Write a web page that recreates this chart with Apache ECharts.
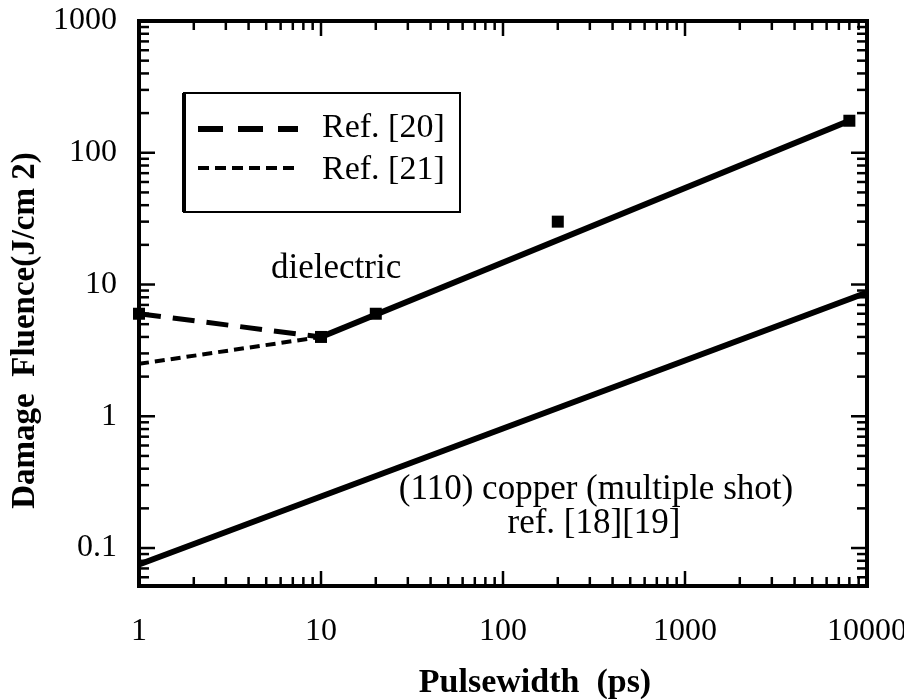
<!DOCTYPE html>
<html>
<head>
<meta charset="utf-8">
<script src="https://cdn.jsdelivr.net/npm/echarts@6/dist/echarts.min.js"></script>
<style>html,body{margin:0;padding:0;background:#fff}#c{width:904px;height:699px}</style>
</head>
<body>
<div id="c"></div>
<script>
// ---- data ----
const ref20X = [1, 10];
const ref20Y = [6, 4];
const ref21X = [1, 10];
const ref21Y = [2.5, 4];
const dielectricX = [10, 8000];
const dielectricY = [4, 175];
const copperX = [1, 10000];
const copperY = [0.075, 8.7];
const squareX = [1, 10, 20, 200, 8000];
const squareY = [6, 4, 6, 30, 175];
const xTickLabels = ['1', '10', '100', '1000', '10000'];
const yTickLabels = ['0.1', '1', '10', '100', '1000'];
const legendNames = ['Ref. [20]', 'Ref. [21]'];
const notes = ['dielectric', '(110) copper (multiple shot)', 'ref. [18][19]'];

const X_MIN = 1, X_MAX = 10000, Y_MIN = 0.0515, Y_MAX = 1000;
const FONT = '"Liberation Serif", "Times New Roman", serif';

const pairs = (xs, ys) => xs.map((x, i) => [x, ys[i]]);

// minor/major tick positions for the framed log axes
const xTicks = [];
for (let e = 0; e < 4; e++) for (let m = 1; m <= 9; m++) xTicks.push([m * Math.pow(10, e), m === 1]);
xTicks.push([10000, true]);
const yTicks = [];
for (let e = -2; e < 3; e++) for (let m = 1; m <= 9; m++) {
  const v = m * Math.pow(10, e);
  if (v >= Y_MIN && v <= Y_MAX) yTicks.push([v, m === 1]);
}
yTicks.push([1000, true]);

function isPow10(v) { const l = Math.log10(v); return Math.abs(l - Math.round(l)) < 1e-6; }
function fmt(labels, v) {
  if (!isPow10(v)) return '';
  const s = String(Math.pow(10, Math.round(Math.log10(v))));
  return labels.indexOf(s) >= 0 ? s : '';
}

const chart = echarts.init(document.getElementById('c'), null, { renderer: 'canvas' });

const option = {
  backgroundColor: '#fff',
  animation: false,
  grid: { left: 139, right: 37, top: 21, bottom: 113, containLabel: false, outerBoundsMode: 'none', show: true, borderColor: '#000', borderWidth: 4, backgroundColor: 'transparent' },
  xAxis: {
    type: 'log', logBase: 10, min: X_MIN, max: X_MAX,
    axisLine: { show: false }, axisTick: { show: false }, splitLine: { show: false },
    axisLabel: { color: '#000', fontFamily: FONT, fontSize: 32, margin: 30, formatter: v => fmt(xTickLabels, v), showMinLabel: true, showMaxLabel: true },
    name: 'Pulsewidth  (ps)', nameLocation: 'middle', nameGap: 80,
    nameTextStyle: { color: '#000', fontFamily: FONT, fontWeight: 'bold', fontSize: 34, padding: [0, 0, 0, 64] }
  },
  yAxis: {
    type: 'log', logBase: 10, min: Y_MIN, max: Y_MAX,
    axisLine: { show: false }, axisTick: { show: false }, splitLine: { show: false },
    axisLabel: { color: '#000', fontFamily: FONT, fontSize: 32, margin: 22, formatter: v => fmt(yTickLabels, v) },
    name: 'Damage  Fluence(J/cm 2)', nameLocation: 'middle', nameGap: 93, nameRotate: 90,
    nameTextStyle: { color: '#000', fontFamily: FONT, fontWeight: 'bold', fontSize: 33, padding: [0, 54, 0, 0] }
  },
  series: [
    {
      name: 'xticks', type: 'custom', silent: true, z: 5, clip: false,
      data: xTicks.map(t => [t[0], 1, t[1] ? 1 : 0]),
      renderItem: function (params, api) {
        const cs = params.coordSys;
        const px = api.coord([api.value(0), 1])[0];
        const len = api.value(2) ? 15 : 9;
        const st = { stroke: '#000', lineWidth: 2.5 };
        return { type: 'group', children: [
          { type: 'line', shape: { x1: px, y1: cs.y + cs.height, x2: px, y2: cs.y + cs.height - len }, style: st },
          { type: 'line', shape: { x1: px, y1: cs.y, x2: px, y2: cs.y + len }, style: st }
        ] };
      }
    },
    {
      name: 'yticks', type: 'custom', silent: true, z: 5, clip: false,
      data: yTicks.map(t => [1, t[0], t[1] ? 1 : 0]),
      renderItem: function (params, api) {
        const cs = params.coordSys;
        const py = api.coord([1, api.value(1)])[1];
        const len = api.value(2) ? 16 : 10;
        const st = { stroke: '#000', lineWidth: 2.5 };
        return { type: 'group', children: [
          { type: 'line', shape: { x1: cs.x, y1: py, x2: cs.x + len, y2: py }, style: st },
          { type: 'line', shape: { x1: cs.x + cs.width, y1: py, x2: cs.x + cs.width - len, y2: py }, style: st }
        ] };
      }
    },
    {
      name: legendNames[0], type: 'line', data: pairs(ref20X, ref20Y), symbol: 'none',
      lineStyle: { color: '#000', width: 5, type: [22, 12] }, z: 3
    },
    {
      name: legendNames[1], type: 'line', data: pairs(ref21X, ref21Y), symbol: 'none',
      lineStyle: { color: '#000', width: 4, type: [10, 6] }, z: 3
    },
    {
      name: 'dielectric', type: 'line', data: pairs(dielectricX, dielectricY), symbol: 'none',
      lineStyle: { color: '#000', width: 6 }, z: 3
    },
    {
      name: 'copper', type: 'line', data: pairs(copperX, copperY), symbol: 'none',
      lineStyle: { color: '#000', width: 6 }, z: 3
    },
    {
      name: 'points', type: 'scatter', data: pairs(squareX, squareY), symbol: 'rect', symbolSize: 12,
      itemStyle: { color: '#000', opacity: 1 }, z: 4, clip: false
    }
  ],
  graphic: [
    { type: 'rect', shape: { x: 184, y: 93, width: 276, height: 119 }, style: { fill: '#fff', stroke: '#000', lineWidth: 2 }, z: 10 },
    { type: 'line', shape: { x1: 184, y1: 93, x2: 184, y2: 212 }, style: { stroke: '#000', lineWidth: 4 }, z: 11 },
    { type: 'line', shape: { x1: 198, y1: 129, x2: 298, y2: 129 }, style: { stroke: '#000', lineWidth: 6, lineDash: [25, 15] }, z: 11 },
    { type: 'line', shape: { x1: 198, y1: 168, x2: 298, y2: 168 }, style: { stroke: '#000', lineWidth: 4, lineDash: [11, 6] }, z: 11 },
    { type: 'text', x: 322, y: 128, style: { text: legendNames[0], fill: '#000', font: '34px ' + FONT, textVerticalAlign: 'middle' }, z: 11 },
    { type: 'text', x: 322, y: 170, style: { text: legendNames[1], fill: '#000', font: '34px ' + FONT, textVerticalAlign: 'middle' }, z: 11 },
    { type: 'text', x: 271, y: 269, style: { text: notes[0], fill: '#000', font: '35px ' + FONT, textVerticalAlign: 'middle' }, z: 11 },
    { type: 'text', x: 596, y: 490, style: { text: notes[1], fill: '#000', font: '35px ' + FONT, textAlign: 'center', textVerticalAlign: 'middle' }, z: 11 },
    { type: 'text', x: 594, y: 524, style: { text: notes[2], fill: '#000', font: '35px ' + FONT, textAlign: 'center', textVerticalAlign: 'middle' }, z: 11 }
  ]
};
chart.setOption(option);
</script>
</body>
</html>
